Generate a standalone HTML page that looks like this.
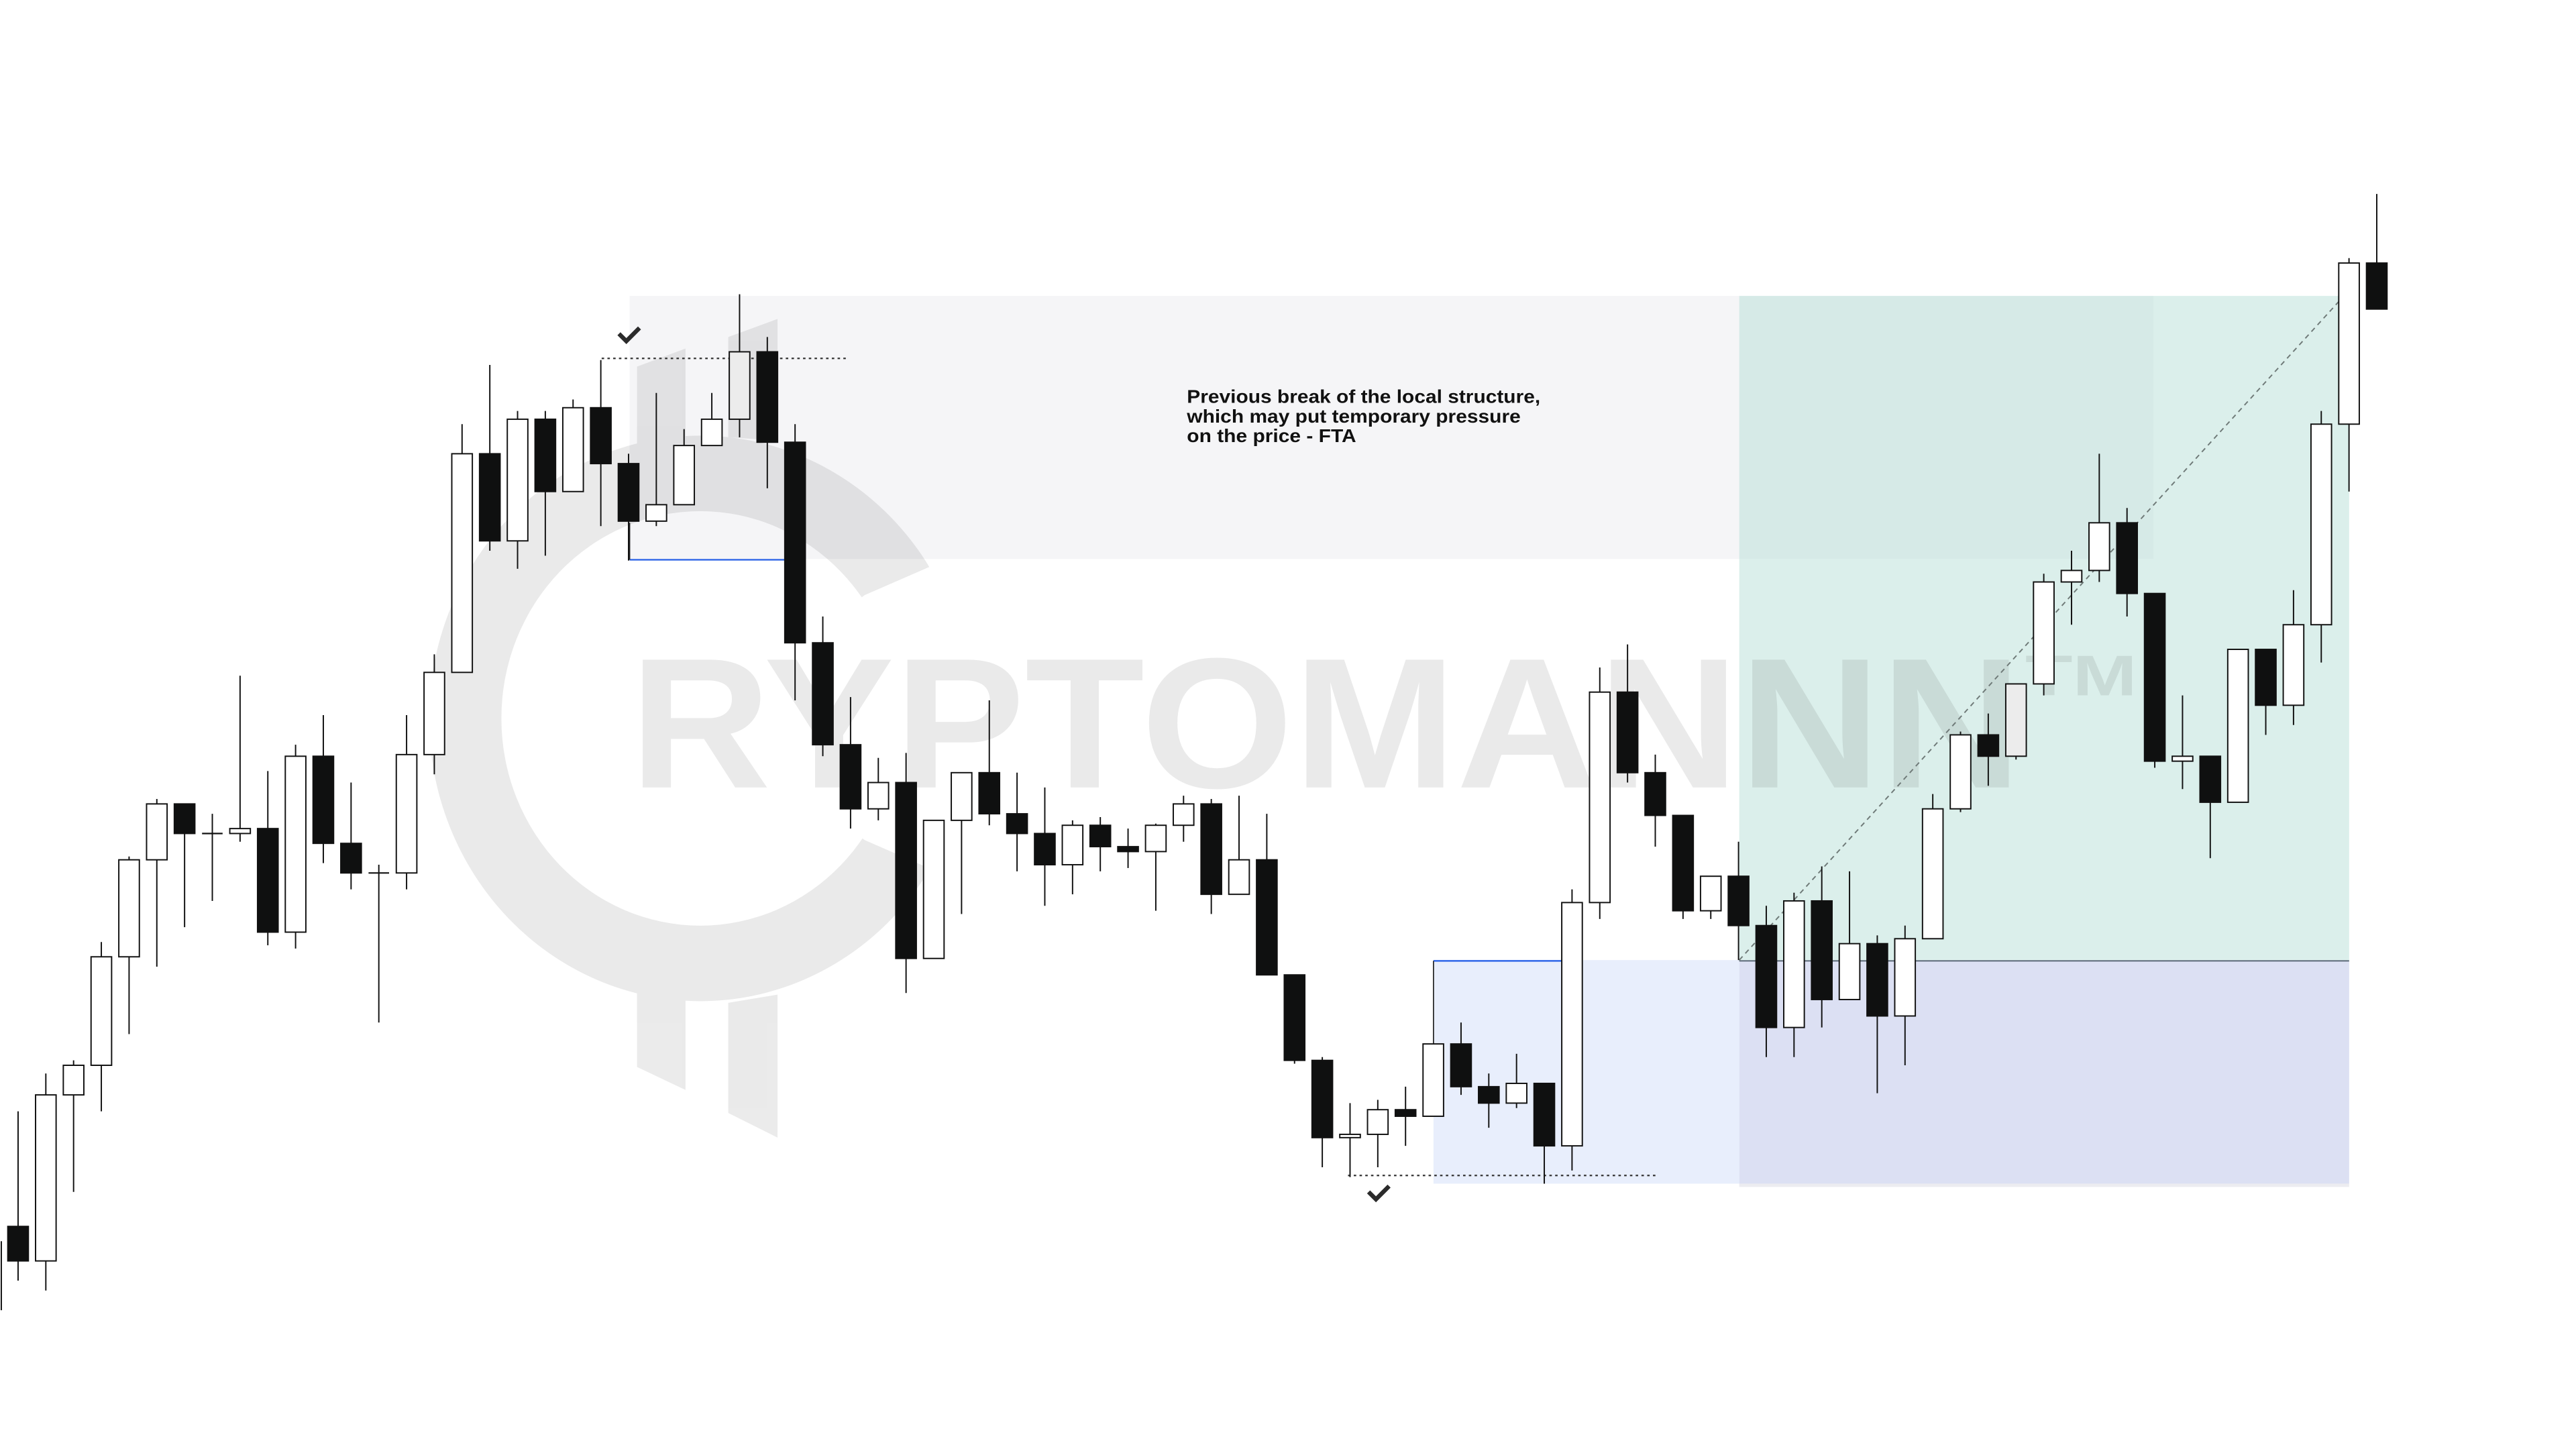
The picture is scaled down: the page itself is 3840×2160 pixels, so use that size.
<!DOCTYPE html>
<html><head><meta charset="utf-8"><style>
html,body{margin:0;padding:0;background:#fff;}
svg{display:block;}
</style></head><body>
<svg id="chart" width="3840" height="2160" viewBox="0 0 1567 881.4" preserveAspectRatio="none" xmlns="http://www.w3.org/2000/svg">
  <rect x="0" y="0" width="1567" height="881.4" fill="#ffffff"/>
  <g id="zones">
    <rect x="383" y="180" width="927" height="160" fill="#f5f5f7"/>
    <rect x="1058" y="180" width="371" height="404" fill="rgb(184,224,216)" fill-opacity="0.5"/>
    <rect x="872" y="584" width="186" height="136" fill="#e8eefc"/>
    <rect x="1058" y="584" width="371" height="136" fill="#dce0f3"/>
    <rect x="1058" y="720" width="371" height="2" fill="#ececf0"/>
    <line x1="1058" y1="584.5" x2="1429" y2="584.5" stroke="#4a5a66" stroke-width="0.7"/>
  </g>
  <g opacity="0.08" fill="#000">
    <g clip-path="url(#cclip)">
      <path fill-rule="evenodd" d="M261,437 a165,172 0 1,0 330,0 a165,172 0 1,0 -330,0 Z M305,437 a121,126 0 1,0 242,0 a121,126 0 1,0 -242,0 Z"/>
    </g>
    <polygon points="387.5,223 417,212 417,268 387.5,275"/>
    <polygon points="443,205 473,194 473,268 443,266"/>
    <polygon points="387.5,604 417,608 417,663 387.5,649"/>
    <polygon points="443,610 473,605 473,692 443,677"/>
    <text x="383" y="479" font-family="Liberation Sans, sans-serif" font-weight="bold" font-size="113" textLength="847" lengthAdjust="spacingAndGlyphs">RYPTOMANNN</text>
    <text x="1232" y="423" font-family="Liberation Sans, sans-serif" font-weight="bold" font-size="35" textLength="68" lengthAdjust="spacingAndGlyphs">TM</text>
  </g>
  <defs>
    <clipPath id="cclip"><path d="M0,0 H700 V286 L565,345 L526,362 L426,437 L526,511 L565,528 L700,586 V900 H0 Z"/></clipPath>
  </defs>
  <g>
    <line x1="0.8" y1="755" x2="0.8" y2="797" stroke="#111" stroke-width="0.8"/>
    <line x1="366" y1="218" x2="516" y2="218" stroke="#333" stroke-width="0.9" stroke-dasharray="1.5,2"/>
    <line x1="820" y1="715" x2="1007" y2="715" stroke="#333" stroke-width="0.9" stroke-dasharray="1.5,2"/>
    <line x1="383" y1="340.5" x2="478" y2="340.5" stroke="#2f66e8" stroke-width="1"/>
    <line x1="383" y1="318" x2="383" y2="340.5" stroke="#222" stroke-width="0.7"/>
    <line x1="872" y1="584.5" x2="950" y2="584.5" stroke="#2f66e8" stroke-width="1"/>
    <line x1="872" y1="584.5" x2="872" y2="635" stroke="#222" stroke-width="0.7"/>
    <line x1="1058" y1="584" x2="1424" y2="182" stroke="#6f7a78" stroke-width="0.8" stroke-dasharray="3,2.5"/>
    <path d="M376.5,203 L381,207.5 L389,199.5" fill="none" stroke="#2b2b2b" stroke-width="2.6"/>
    <path d="M832.5,725 L837,729.5 L845,721.5" fill="none" stroke="#2b2b2b" stroke-width="2.6"/>
    <g font-family="Liberation Sans, sans-serif" font-weight="bold" font-size="11.3" fill="#111">
      <text x="722" y="245" textLength="215" lengthAdjust="spacingAndGlyphs">Previous break of the local structure,</text>
      <text x="722" y="257" textLength="203" lengthAdjust="spacingAndGlyphs">which may put temporary pressure</text>
      <text x="722" y="269" textLength="103" lengthAdjust="spacingAndGlyphs">on the price - FTA</text>
    </g>
  </g>
  <g id="candles"></g>
</svg>
<script>
const highs = [224,247,255,327,379,414,411,405,489,431,447,465,424,374,465,502,642,678,650,650,657,681,624,661,639,661,721,695,642,525,476,439,442,401,430,474,430,421,401,403,396,399,416,414,416,405,307,257,229,231,239,265,278,247,259,241,359,494,508,441,404,367,388,349,357,373,370,331,337,417,455,466,484,551,565,624,591,539,477,440,505,505,541,650,743,782];
const lows = [121,115,175,224,271,312,336,352,388,325,323,375,359,278,359,429,491,565,554,562,601,580,559,580,593,629,634,603,474,440,396,401,296,317,344,398,370,349,356,370,372,346,388,344,356,307,253,190,184,190,203,221,234,214,226,180,188,341,424,385,341,341,316,257,257,275,292,235,252,329,406,422,438,477,520,546,525,433,420,378,412,453,459,497,601,712];
const opens = [154,133,234,252,318,377,411,393,393,396,333,440,387,369,369,441,491,624,571,645,601,652,618,583,593,629,645,686,631,509,447,408,424,317,401,430,405,393,374,398,385,382,398,411,356,377,307,255,208,210,225,221,265,239,229,241,203,351,479,430,404,346,367,337,275,352,292,326,282,329,408,453,440,484,546,553,582,539,437,440,412,505,471,520,642,740];
const closes = [133,234,252,318,377,411,393,393,396,333,440,387,369,369,441,491,624,571,645,601,652,618,583,593,629,645,686,631,509,447,408,424,317,401,430,405,393,374,398,385,382,398,411,356,377,307,255,208,210,225,221,265,239,229,241,203,351,479,430,404,346,367,337,275,352,292,326,282,329,408,453,440,484,546,553,582,539,437,440,412,505,471,520,642,740,712];
const grayCandles = [26,72];

const X0 = 11, STEP = 16.88, BODY = 12.5;
function xScale(i){ return X0 + i*STEP; }
function yScale(p){ return 900 - p; }

const NS = "http://www.w3.org/2000/svg";
const g = document.getElementById('candles');
for (let i = 0; i < opens.length; i++) {
  const cx = xScale(i);
  const grp = document.createElementNS(NS, 'g');
  
  
  const wick = document.createElementNS(NS, 'line');
  
  
  wick.setAttribute('x1', cx); wick.setAttribute('x2', cx);
  wick.setAttribute('y1', yScale(highs[i])); wick.setAttribute('y2', yScale(lows[i]));
  wick.setAttribute('stroke', '#111'); wick.setAttribute('stroke-width', '0.8');
  grp.appendChild(wick);
  const o = opens[i], c = closes[i];
  const up = c > o;
  const top = yScale(Math.max(o, c)), bot = yScale(Math.min(o, c));
  if (bot - top < 0.8) {
    const dj = document.createElementNS(NS, 'line');
    
    
    dj.setAttribute('x1', cx - BODY/2); dj.setAttribute('x2', cx + BODY/2);
    dj.setAttribute('y1', top); dj.setAttribute('y2', top);
    dj.setAttribute('stroke', '#111'); dj.setAttribute('stroke-width', '0.9');
    grp.appendChild(dj);
  } else {
    const body = document.createElementNS(NS, 'rect');
    
    
    body.setAttribute('x', cx - BODY/2); body.setAttribute('y', top);
    body.setAttribute('width', BODY); body.setAttribute('height', bot - top);
    body.setAttribute('fill', up ? (grayCandles.includes(i) ? '#ececec' : '#ffffff') : '#0f1010');
    body.setAttribute('stroke', '#111'); body.setAttribute('stroke-width', '0.8');
    grp.appendChild(body);
  }
  g.appendChild(grp);
}
</script>
</body></html>
